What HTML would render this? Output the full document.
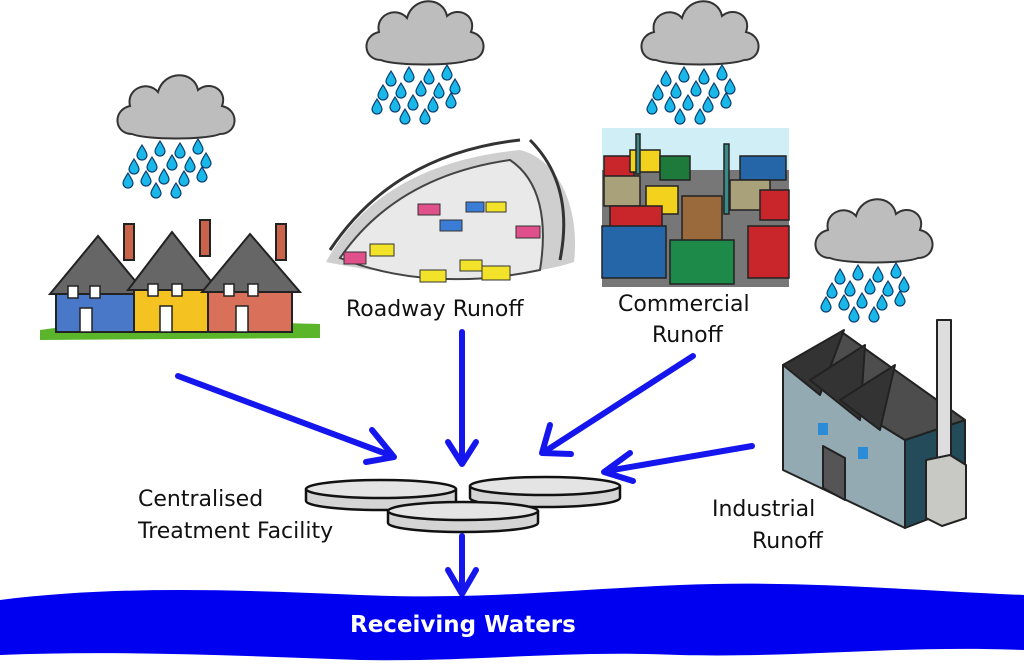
<!DOCTYPE html>
<html><head><style>
html,body{margin:0;padding:0;background:#fff;}
svg{display:block;}
text{font-family:"DejaVu Sans","Liberation Sans",sans-serif;}
</style></head><body>
<svg width="1024" height="664" viewBox="0 0 1024 664" xmlns="http://www.w3.org/2000/svg">
<defs>
<g id="cloud">
<path d="M-44,24 C-62,24 -64,0 -46,-4 C-50,-22 -28,-30 -18,-18 C-12,-40 18,-40 22,-20 C34,-30 52,-20 46,-4 C64,0 62,24 44,24 C30,30 -30,30 -44,24 Z" fill="#bdbdbd" stroke="#333" stroke-width="2"/>
</g>
<g id="drop"><path d="M0,-7 C3,-2 5,1 5,3 A5,5 0 0 1 -5,3 C-5,1 -3,-2 0,-7Z" fill="#19b8e8" stroke="#0b3f70" stroke-width="1.2"/></g>
<g id="rain">
<use href="#drop" x="-30" y="0"/><use href="#drop" x="-12" y="-4"/><use href="#drop" x="8" y="-2"/><use href="#drop" x="26" y="-6"/>
<use href="#drop" x="-38" y="14"/><use href="#drop" x="-20" y="12"/><use href="#drop" x="0" y="10"/><use href="#drop" x="18" y="12"/><use href="#drop" x="34" y="8"/>
<use href="#drop" x="-44" y="28"/><use href="#drop" x="-26" y="26"/><use href="#drop" x="-8" y="24"/><use href="#drop" x="12" y="26"/><use href="#drop" x="30" y="22"/>
<use href="#drop" x="-16" y="38"/><use href="#drop" x="4" y="38"/>
</g>
</defs>

<use href="#cloud" x="176" y="110"/><use href="#rain" x="172" y="152"/>
<use href="#cloud" x="425" y="36"/><use href="#rain" x="421" y="78"/>
<use href="#cloud" x="700" y="36"/><use href="#rain" x="696" y="78"/>
<use href="#cloud" x="874" y="234"/><use href="#rain" x="870" y="276"/>

<!-- houses -->
<path d="M40,330 C120,318 240,322 320,324 L320,338 L40,340Z" fill="#5bb52a"/>
<g stroke="#222" stroke-width="2">
<rect x="124" y="224" width="10" height="36" fill="#c9644a"/>
<rect x="200" y="220" width="10" height="36" fill="#c9644a"/>
<rect x="276" y="224" width="10" height="36" fill="#c9644a"/>
<polygon points="56,290 98,240 138,290 138,332 56,332" fill="#4a78c9"/>
<polygon points="50,294 98,236 146,294" fill="#666"/>
<polygon points="134,286 172,238 212,286 212,332 134,332" fill="#f4c221"/>
<polygon points="128,290 172,232 218,290" fill="#666"/>
<polygon points="208,288 250,240 292,288 292,332 208,332" fill="#d9705a"/>
<polygon points="202,292 250,234 300,292" fill="#666"/>
</g>
<g fill="#fff" stroke="#222" stroke-width="1.5">
<rect x="68" y="286" width="10" height="12"/><rect x="90" y="286" width="10" height="12"/><rect x="80" y="308" width="12" height="24"/>
<rect x="148" y="284" width="10" height="12"/><rect x="172" y="284" width="10" height="12"/><rect x="160" y="306" width="12" height="26"/>
<rect x="224" y="284" width="10" height="12"/><rect x="248" y="284" width="10" height="12"/><rect x="236" y="306" width="12" height="26"/>
</g>

<!-- roadway -->
<path d="M326,262 C360,200 420,160 520,150 C560,160 580,210 574,262 C520,280 420,282 326,262Z" fill="#cfcfcf"/>
<path d="M340,258 C380,200 440,170 510,160 C540,180 548,220 540,270 C470,285 400,282 340,258Z" fill="#e9e9e9" stroke="#444" stroke-width="2"/>
<path d="M330,250 C370,190 430,150 520,140 M560,260 C570,210 560,170 530,140" fill="none" stroke="#333" stroke-width="3"/>
<g fill="#f2e22a" stroke="#333"><rect x="370" y="244" width="24" height="12"/><rect x="420" y="270" width="26" height="12"/><rect x="482" y="266" width="28" height="14"/><rect x="460" y="260" width="22" height="11"/><rect x="486" y="202" width="20" height="10"/></g>
<g fill="#e0508a" stroke="#333"><rect x="344" y="252" width="22" height="12"/><rect x="418" y="204" width="22" height="11"/><rect x="516" y="226" width="24" height="12"/></g>
<g fill="#3a7cd6" stroke="#333"><rect x="440" y="220" width="22" height="11"/><rect x="466" y="202" width="18" height="10"/></g>

<!-- parking lot -->
<rect x="602" y="128" width="187" height="159" fill="#cfeef5"/>
<rect x="602" y="170" width="187" height="117" fill="#777"/>
<g stroke="#222" stroke-width="1.5">
<rect x="604" y="156" width="30" height="22" fill="#c8262a"/><rect x="630" y="150" width="30" height="22" fill="#f3d21e"/><rect x="660" y="156" width="30" height="24" fill="#1d7a3a"/><rect x="740" y="156" width="46" height="24" fill="#2566a8"/>
<rect x="604" y="176" width="36" height="30" fill="#a9a17a"/><rect x="646" y="186" width="32" height="28" fill="#f3d21e"/><rect x="730" y="180" width="40" height="30" fill="#a9a17a"/><rect x="760" y="190" width="29" height="30" fill="#c8262a"/>
<rect x="610" y="206" width="52" height="24" fill="#c8262a"/><rect x="682" y="196" width="40" height="60" fill="#9a6a3c"/>
<rect x="602" y="226" width="64" height="52" fill="#2566a8"/><rect x="670" y="240" width="64" height="44" fill="#1d8a4a"/><rect x="748" y="226" width="41" height="52" fill="#c8262a"/>
<rect x="636" y="134" width="4" height="40" fill="#3a8a8a"/><rect x="724" y="144" width="5" height="70" fill="#3a8a8a"/>
</g>

<!-- factory -->
<g stroke="#222" stroke-width="2" stroke-linejoin="round">
<polygon points="783,365 905,440 905,528 783,470" fill="#93aab2"/>
<polygon points="905,440 965,420 965,505 905,528" fill="#234b5a"/>
<polygon points="783,365 843,333 965,420 905,440" fill="#4d4d4d"/>
<polygon points="783,365 844,330 820,395" fill="#333"/>
<polygon points="810,380 865,345 860,420" fill="#333"/>
<polygon points="840,400 895,365 880,430" fill="#333"/>
<rect x="937" y="320" width="14" height="150" fill="#ddd"/>
<polygon points="926,460 950,455 966,465 966,518 942,526 926,518" fill="#c8c8c4"/>
<polygon points="823,446 845,458 845,500 823,488" fill="#555"/>
</g>
<rect x="818" y="423" width="10" height="12" fill="#2a8bd6"/><rect x="858" y="447" width="10" height="12" fill="#2a8bd6"/>

<!-- arrows -->
<g stroke="#1515ee" stroke-width="6" fill="none" stroke-linecap="round" stroke-linejoin="round">
<line x1="178" y1="376" x2="392" y2="456"/><polyline points="372,430 394,457 366,462"/>
<line x1="462" y1="332" x2="462" y2="462"/><polyline points="448,442 462,464 476,442"/>
<line x1="693" y1="356" x2="544" y2="452"/><polyline points="550,425 542,453 571,454"/>
<line x1="752" y1="446" x2="607" y2="471"/><polyline points="630,453 604,472 633,481"/>
<line x1="462" y1="536" x2="462" y2="592"/><polyline points="448,570 462,594 476,570"/>
</g>

<!-- tanks -->
<g stroke="#111" stroke-width="2.5" fill="#d4d4d4">
<path d="M306,489 L306,501 A75,9 0 0 0 456,501 L456,489"/><ellipse cx="381" cy="489" rx="75" ry="9" fill="#e4e4e4"/>
<path d="M470,486 L470,498 A75,9 0 0 0 620,498 L620,486"/><ellipse cx="545" cy="486" rx="75" ry="9" fill="#e4e4e4"/>
<path d="M388,511 L388,523 A75,9 0 0 0 538,523 L538,511"/><ellipse cx="463" cy="511" rx="75" ry="9" fill="#e4e4e4"/>
</g>

<!-- water -->
<path d="M0,600 C120,585 240,590 360,595 C480,600 560,590 680,585 C800,580 900,590 1024,595 L1024,650 C900,645 800,658 680,655 C560,650 480,662 360,660 C240,656 120,650 0,655Z" fill="#0000f0"/>

<g font-size="22" fill="#111">
<text x="346" y="316">Roadway Runoff</text>
<text x="618" y="311">Commercial</text><text x="652" y="342">Runoff</text>
<text x="138" y="506">Centralised</text><text x="138" y="538">Treatment Facility</text>
<text x="712" y="516">Industrial</text><text x="752" y="548">Runoff</text>
</g>
<text x="350" y="632" font-size="23" font-weight="bold" fill="#fff">Receiving Waters</text>
</svg>
</body></html>
